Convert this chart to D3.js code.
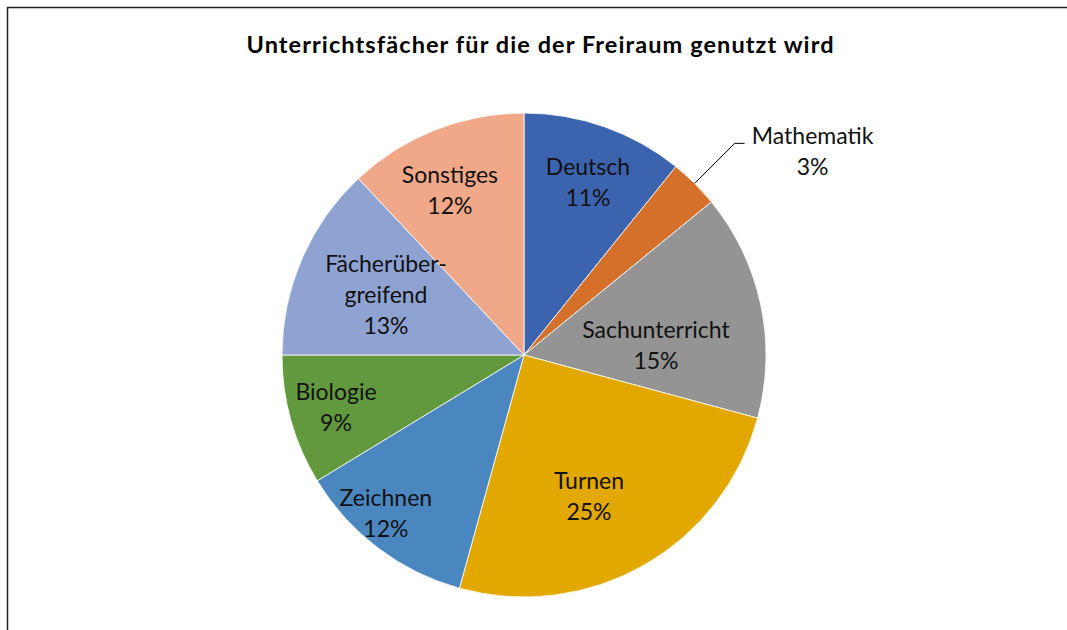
<!DOCTYPE html>
<html><head><meta charset="utf-8">
<script src="https://cdn.jsdelivr.net/npm/d3@7"></script>
<style>body{margin:0;background:#fff}svg{display:block}text{font-family:Lato,"Open Sans",sans-serif}</style>
</head><body>
<svg id="c" width="1067" height="630"></svg>
<script>
const categories = ["Deutsch","Mathematik","Sachunterricht","Turnen","Zeichnen","Biologie","Fächerübergreifend","Sonstiges"];
const labelLines = [["Deutsch"],["Mathematik"],["Sachunterricht"],["Turnen"],["Zeichnen"],["Biologie"],["Fächerüber-","greifend"],["Sonstiges"]];
const values = [10.8, 3.3, 15.1, 25.1, 12.0, 8.7, 13.0, 12.0];
const colors = ["#3C64AE","#D5702A","#949494","#E2A800","#4A86BF","#62993E","#8FA3D3","#F0A889"];
const title = "Unterrichtsfächer für die der Freiraum genutzt wird";

const svg = d3.select("#c");
// frame (cropped on right and bottom)
svg.append("path").attr("d","M7.5,640 V7.5 H1080").attr("fill","none").attr("stroke","#222").attr("stroke-width",1.5);

svg.append("text").attr("x",540).attr("y",53).attr("text-anchor","middle")
  .attr("font-size",23.5).attr("font-weight","bold").attr("fill","#000")
  .attr("textLength",587).attr("lengthAdjust","spacing").text(title);

const cx=524, cy=355, R=242;
const total = d3.sum(values);
const pie = d3.pie().sort(null).value(d=>d)(values);
const arc = d3.arc().innerRadius(0).outerRadius(R);
const g = svg.append("g").attr("transform",`translate(${cx},${cy})`);
g.selectAll("path").data(pie).join("path").attr("d",arc)
  .attr("fill",(d,i)=>colors[i]).attr("stroke","#fff").attr("stroke-width",0.8);

// label placement: [angle in degrees clockwise from top, radius factor]; Mathematik outside
const labelPolar = [[20.3,0.762], null, [85.7,0.547], [155.4,0.645], [221,0.87], [254.3,0.807], [293.5,0.622], [335.8,0.747]];
const fmt = v => Math.round(v/total*100)+"%";
const lh=31;
pie.forEach((d,i)=>{
  let x,y;
  const a=(d.startAngle+d.endAngle)/2;
  if(labelPolar[i]===null){
    const pe=[Math.sin(a)*R, -Math.cos(a)*R];
    const elbow=[pe[0]+40, pe[1]-40];
    g.append("polyline").attr("points",`${pe[0]},${pe[1]} ${elbow[0]},${elbow[1]} ${elbow[0]+10},${elbow[1]}`)
      .attr("fill","none").attr("stroke","#000").attr("stroke-width",1);
    x=elbow[0]+78; y=elbow[1]+8;
  } else {
    const ang=labelPolar[i][0]*Math.PI/180, r=labelPolar[i][1]*R;
    x=Math.sin(ang)*r; y=-Math.cos(ang)*r;
  }
  const lines = labelLines[i].concat([fmt(values[i])]);
  const y0 = y - (lines.length-1)*lh/2;
  lines.forEach((t,k)=>{
    g.append("text").attr("x",x).attr("y",y0+k*lh).attr("dy","0.35em")
      .attr("text-anchor","middle").attr("font-size",23).attr("fill","#111").text(t);
  });
});
</script>
</body></html>
